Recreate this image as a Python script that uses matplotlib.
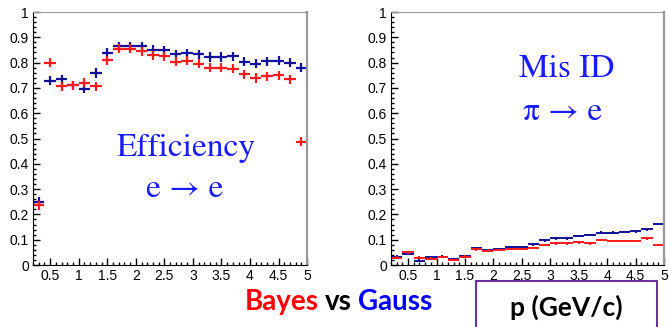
import numpy as np
import matplotlib.pyplot as plt
from matplotlib.ticker import MultipleLocator, FuncFormatter
from matplotlib.patches import Rectangle

# momentum bins (GeV/c), width 0.2
p_centers = [0.3, 0.5, 0.7, 0.9, 1.1, 1.3, 1.5, 1.7, 1.9, 2.1, 2.3, 2.5,
             2.7, 2.9, 3.1, 3.3, 3.5, 3.7, 3.9, 4.1, 4.3, 4.5, 4.7, 4.9]
half_bin = 0.1

# e -> e efficiency
eff_gauss = [0.250, 0.728, 0.734, 0.710, 0.697, 0.759, 0.838, 0.864, 0.864, 0.864, 0.851, 0.849,
             0.833, 0.836, 0.833, 0.822, 0.822, 0.825, 0.803, 0.796, 0.805, 0.807, 0.800, 0.780]
eff_bayes = [0.236, 0.800, 0.707, 0.710, 0.720, 0.707, 0.809, 0.855, 0.855, 0.845, 0.829, 0.825,
             0.803, 0.807, 0.796, 0.779, 0.779, 0.776, 0.754, 0.739, 0.746, 0.750, 0.734, 0.487]
eff_err = 0.018

# pi -> e mis-identification
mis_gauss = [0.033, 0.043, 0.017, 0.030, 0.033, 0.024, 0.036, 0.066, 0.059, 0.064, 0.072, 0.072,
             0.082, 0.097, 0.105, 0.105, 0.114, 0.118, 0.128, 0.128, 0.130, 0.133, 0.141, 0.162]
mis_bayes = [0.029, 0.050, 0.029, 0.025, 0.032, 0.020, 0.033, 0.062, 0.057, 0.059, 0.064, 0.064,
             0.068, 0.079, 0.086, 0.086, 0.089, 0.086, 0.099, 0.095, 0.095, 0.095, 0.105, 0.079]
mis_err = 0.005

blue = "#10109a"
red = "#ff1a1a"

plt.rcParams['font.family'] = ['Liberation Sans', 'DejaVu Sans']

fig = plt.figure(figsize=(6.7, 3.27), dpi=100)
ax1 = fig.add_axes([0.0493, 0.1896, 0.409, 0.7737])
ax2 = fig.add_axes([0.5836, 0.1896, 0.4075, 0.7737])


def style(ax):
    ax.set_xlim(0.2, 5.0)
    ax.set_ylim(0, 1)
    ax.xaxis.set_minor_locator(MultipleLocator(0.1))
    ax.yaxis.set_major_locator(MultipleLocator(0.1))
    ax.yaxis.set_minor_locator(MultipleLocator(0.02))
    fmt = FuncFormatter(lambda v, pos: "%g" % round(v, 2))
    ax.xaxis.set_major_formatter(fmt)
    ax.yaxis.set_major_formatter(fmt)
    ax.tick_params(which='both', direction='in', top=False, right=False,
                   color='black', width=1.0, labelsize=10)
    ax.tick_params(which='major', length=5)
    ax.tick_params(which='minor', length=2.5)
    ax.tick_params(axis='x', pad=3)
    ax.tick_params(axis='y', pad=3)
    ax.spines['left'].set_color('black')
    ax.spines['bottom'].set_color('black')
    ax.spines['top'].set_color('#999999')
    ax.spines['right'].set_color('#999999')
    ax.spines['right'].set_linewidth(1.6)
    ax.set_xticks([0.5, 1, 1.5, 2, 2.5, 3, 3.5, 4, 4.5, 5])


for ax, g, b, err, lw in [(ax1, eff_gauss, eff_bayes, eff_err, 1.6),
                          (ax2, mis_gauss, mis_bayes, mis_err, 1.4)]:
    style(ax)
    ax.errorbar(p_centers, g, xerr=half_bin, yerr=err, fmt='none',
                ecolor=blue, elinewidth=lw, capsize=0)
    ax.errorbar(p_centers, b, xerr=half_bin, yerr=err, fmt='none',
                ecolor=red, elinewidth=lw, capsize=0)

serif = ['STIXGeneral', 'Liberation Serif', 'DejaVu Serif']
tcol = '#1a1aff'
ax1.text(0.56, 0.46, "Efficiency", transform=ax1.transAxes, color=tcol,
         fontsize=24, family=serif, ha='center', va='center')
ax1.text(0.555, 0.298, "e \u2192 e", transform=ax1.transAxes, color=tcol,
         fontsize=24, family=serif, ha='center', va='center')
ax2.text(0.645, 0.775, "Mis ID", transform=ax2.transAxes, color=tcol,
         fontsize=24, family=serif, ha='center', va='center')
ax2.text(0.63, 0.605, "\u03c0 \u2192 e", transform=ax2.transAxes, color=tcol,
         fontsize=24, family=serif, ha='center', va='center')

# bottom caption
bold = ['Lato', 'DejaVu Sans']
y_cap = 0.077
t1 = fig.text(245 / 670, y_cap, "Bayes", color='#ff0000', fontsize=20,
              fontweight='bold', family=bold, ha='left', va='center')
fig.canvas.draw()
r = fig.canvas.get_renderer()
bb = t1.get_window_extent(r)
t2 = fig.text(bb.x1 / fig.bbox.width + 0.009, y_cap, "vs", color='black',
              fontsize=20, fontweight='bold', family=bold, ha='left', va='center')
bb2 = t2.get_window_extent(r)
fig.text(bb2.x1 / fig.bbox.width + 0.009, y_cap, "Gauss", color='#0000ff',
         fontsize=20, fontweight='bold', family=bold, ha='left', va='center')

box = Rectangle((476 / 670, -0.05), (657 - 476) / 670, 0.05 + (327 - 281) / 327,
                transform=fig.transFigure, fill=False, edgecolor='#7030a0',
                linewidth=1.5, clip_on=False)
fig.add_artist(box)
fig.text(566 / 670, 0.06, "p (GeV/c)", color='black', fontsize=19,
         fontweight='bold', family=bold, ha='center', va='center')

fig.savefig("out.png", dpi=100)
